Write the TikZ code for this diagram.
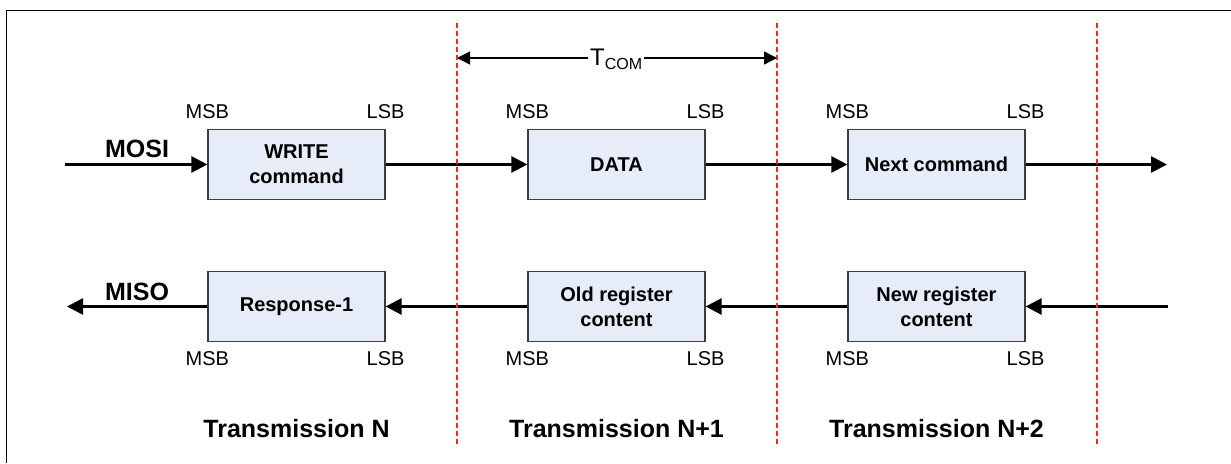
\documentclass[tikz,border=0pt]{standalone}
\usepackage{fontspec}
\setmainfont{Liberation Sans}
\usetikzlibrary{arrows.meta}
\definecolor{boxfill}{RGB}{230,236,248}
\definecolor{boxline}{RGB}{60,60,60}
\definecolor{sepred}{RGB}{240,40,40}
\begin{document}
\begin{tikzpicture}[x=1pt,y=-1pt,
  reg/.style={draw=boxline, line width=1.2pt, fill=boxfill, minimum width=177pt, minimum height=70pt, inner sep=0pt, align=center, font=\fontsize{20}{25}\selectfont\bfseries},
  bit/.style={font=\fontsize{20}{22}\selectfont, inner sep=0pt},
  sig/.style={line width=2.6pt, -{Triangle[length=16pt,width=16pt]}},
  tcom/.style={line width=1.4pt, -{Triangle[length=13pt,width=13pt]}},
  sepline/.style={draw=sepred, line width=1.3pt, dash pattern=on 5pt off 3pt},
  lbl/.style={font=\fontsize{25}{25}\selectfont\bfseries, inner sep=0pt},
  tx/.style={font=\fontsize{25}{25}\selectfont\bfseries, inner sep=0pt}]
\useasboundingbox (0,0) rectangle (1231,463);
% frame
\draw[line width=1pt] (6,463) -- (6,10.5) -- (1231,10.5);

% boxes
\node[reg] (w1) at (296.5,164.5) {WRITE\\command};
\node[reg] (d1) at (616.5,164.5) {DATA};
\node[reg] (n1) at (936.5,164.5) {Next command};
\node[reg] (r2) at (296.5,306.5) {Response-1};
\node[reg] (o2) at (616.5,306.5) {Old register\\content};
\node[reg] (n2) at (936.5,306.5) {New register\\content};

% bit labels
\foreach \b in {w1,d1,n1}{
  \node[bit] (\b msb) at (\b.north west) [yshift=17pt] {MSB};
  \node[bit] (\b lsb) at (\b.north east) [yshift=17pt] {LSB};
}
\foreach \b in {r2,o2,n2}{
  \node[bit] (\b msb) at (\b.south west) [yshift=-17pt] {MSB};
  \node[bit] (\b lsb) at (\b.south east) [yshift=-17pt] {LSB};
}

% signal labels
\node[lbl] (mosi) at (137,149) {MOSI};
\node[lbl] (miso) at (137,292) {MISO};

% signal arrows
\coordinate (mosiin) at (65,164.5);
\coordinate (mosiout) at (1167,164.5);
\coordinate (misoin) at (1168,306.5);
\coordinate (misoout) at (67,306.5);
\draw[sig] (mosiin) -- (w1.west);
\draw[sig] (w1.east) -- (d1.west);
\draw[sig] (d1.east) -- (n1.west);
\draw[sig] (n1.east) -- (mosiout);
\draw[sig] (misoin) -- (n2.east);
\draw[sig] (n2.west) -- (o2.east);
\draw[sig] (o2.west) -- (r2.east);
\draw[sig] (r2.west) -- (misoout);

% T_COM
\node[inner sep=2pt, anchor=base west] (tc) at (588,65) {\fontsize{24}{24}\selectfont T\raisebox{-4pt}{\fontsize{16}{16}\selectfont COM}};
\coordinate (tcl) at (457,58);
\coordinate (tcr) at (777,58);
\draw[tcom] (tc.west |- tcl) -- (tcl);
\draw[tcom] (tc.east |- tcr) -- (tcr);

% transmission labels
\node[tx] (t0) at (296.5,429) {Transmission N};
\node[tx] (t1) at (616.5,429) {Transmission N+1};
\node[tx] (t2) at (936.5,429) {Transmission N+2};

% separators
\foreach \x/\n in {457/s1,777/s2,1097/s3}{
  \coordinate (\n top) at (\x,23);
  \coordinate (\n bot) at (\x,447);
  \draw[sepline] (\n top) -- (\n bot);
}
\end{tikzpicture}
\end{document}
